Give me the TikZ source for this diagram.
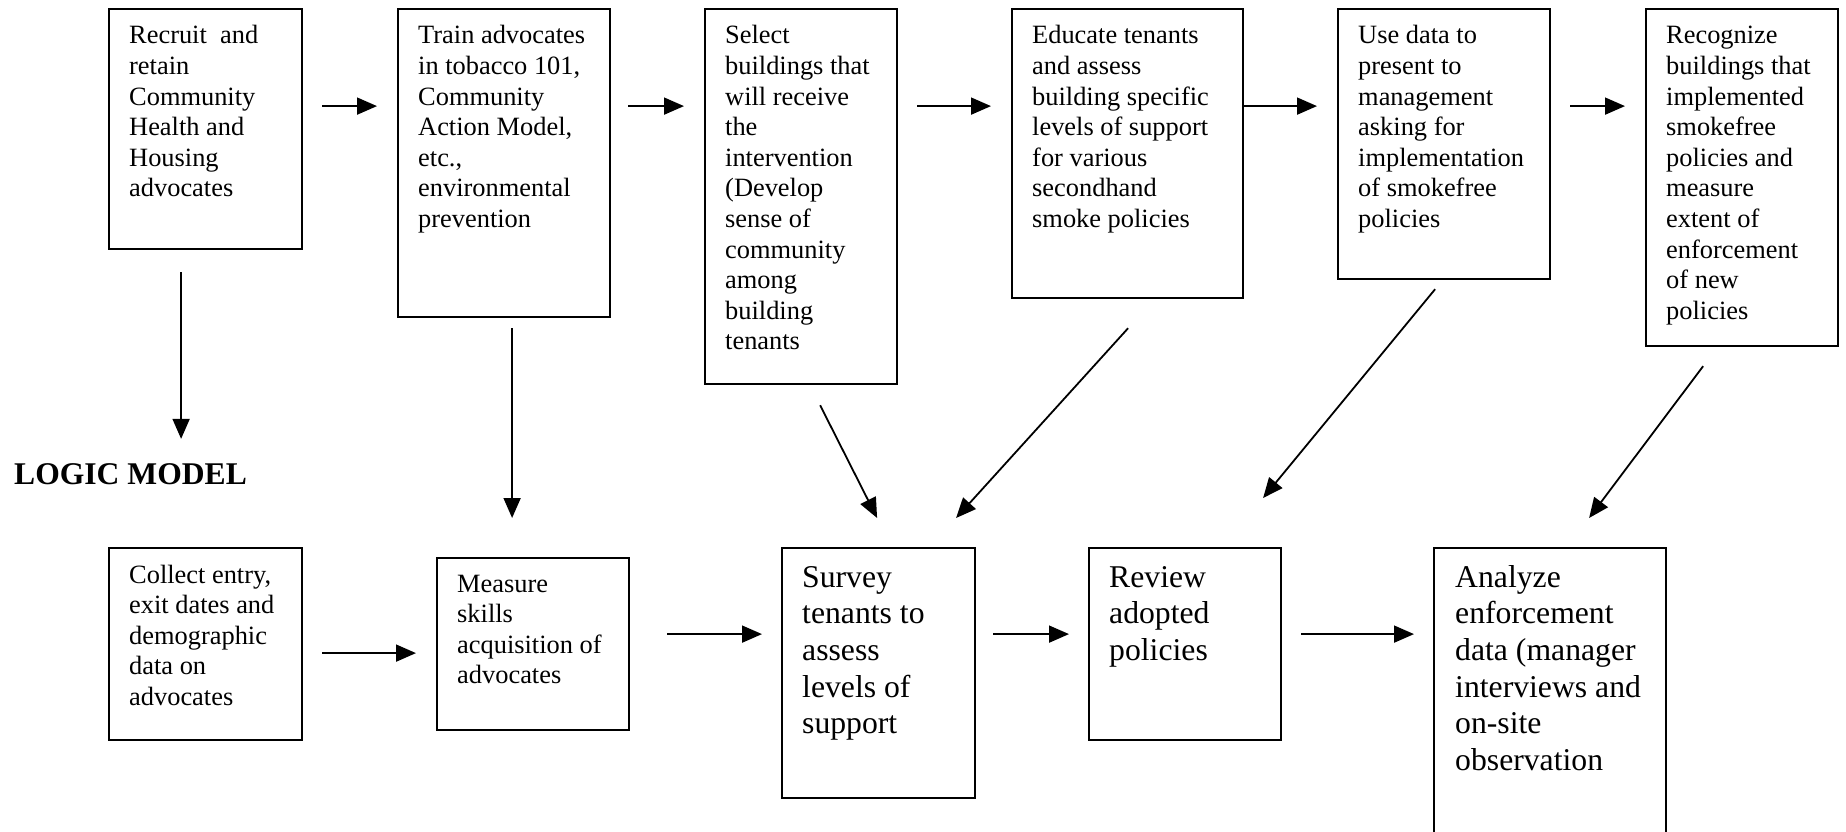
\documentclass[tikz,border=0pt]{standalone}
\usepackage{fontspec}
\setmainfont{Liberation Serif}
\usetikzlibrary{arrows.meta,calc}
\tikzset{
  box/.style={draw, line width=2.2pt, inner sep=0pt, anchor=north west},
  arr/.style={line width=1.8pt, -{Triangle[length=20pt,width=17pt]}},
  sm/.style={anchor=base west, inner sep=0pt, font=\fontsize{26.4}{30.6}\selectfont},
  bg/.style={anchor=base west, inner sep=0pt, font=\fontsize{31.7}{36.7}\selectfont},
}
\newcommand{\mylines}[1]{\parbox[t]{400pt}{\raggedright #1}}
\begin{document}
\begin{tikzpicture}[x=1pt,y=-1pt]
\useasboundingbox[fill=white] (0,0) rectangle (1846,832);
% top row boxes
\node[box, minimum width=193pt, minimum height=240pt] (A) at (108,8) {};
\node[box, minimum width=212pt, minimum height=308pt] (B) at (397,8) {};
\node[box, minimum width=192pt, minimum height=375pt] (C) at (704,8) {};
\node[box, minimum width=231pt, minimum height=289pt] (D) at (1011,8) {};
\node[box, minimum width=212pt, minimum height=270pt] (E) at (1337,8) {};
\node[box, minimum width=192pt, minimum height=337pt] (F) at (1645,8) {};
% bottom row boxes
\node[box, minimum width=193pt, minimum height=192pt] (G) at (108,547) {};
\node[box, minimum width=192pt, minimum height=172pt] (H) at (436,557) {};
\node[box, minimum width=193pt, minimum height=250pt] (I) at (781,547) {};
\node[box, minimum width=192pt, minimum height=192pt] (J) at (1088,547) {};
\node[box, minimum width=232pt, minimum height=293pt] (K) at (1433,547) {};
% texts
\node[sm] (tA) at (129,44) {\mylines{Recruit \ and\\retain\\Community\\Health and\\Housing\\advocates}};
\node[sm] (tB) at (418,44) {\mylines{Train advocates\\in tobacco 101,\\Community\\Action Model,\\etc.,\\environmental\\prevention}};
\node[sm] (tC) at (725,44) {\mylines{Select\\buildings that\\will receive\\the\\intervention\\(Develop\\sense of\\community\\among\\building\\tenants}};
\node[sm] (tD) at (1032,44) {\mylines{Educate tenants\\and assess\\building specific\\levels of support\\for various\\secondhand\\smoke policies}};
\node[sm] (tE) at (1358,44) {\mylines{Use data to\\present to\\management\\asking for\\implementation\\of smokefree\\policies}};
\node[sm] (tF) at (1666,44) {\mylines{Recognize\\buildings that\\implemented\\smokefree\\policies and\\measure\\extent of\\enforcement\\of new\\policies}};
\node[sm] (tG) at (129,583) {\mylines{Collect entry,\\exit dates and\\demographic\\data on\\advocates}};
\node[sm] (tH) at (457,592) {\mylines{Measure\\skills\\acquisition of\\advocates}};
\node[bg] (tI) at (802,587) {\mylines{Survey\\tenants to\\assess\\levels of\\support}};
\node[bg] (tJ) at (1109,587) {\mylines{Review\\adopted\\policies}};
\node[bg] (tK) at (1455,587) {\mylines{Analyze\\enforcement\\data (manager\\interviews and\\on-site\\observation}};
\node[anchor=base west, inner sep=0pt, font=\bfseries\fontsize{31.6}{36}\selectfont] (LM) at (14,484) {LOGIC MODEL};
% top row arrows
\draw[arr] ([shift={(19,-23)}]A.east) -- ([shift={(-20,-57)}]B.west);
\draw[arr] ([shift={(17,-57)}]B.east) -- ([shift={(-20,-90.5)}]C.west);
\draw[arr] ([shift={(19,-90.5)}]C.east) -- ([shift={(-20,-47.5)}]D.west);
\draw[arr] ([shift={(0,-47.5)}]D.east) -- ([shift={(-20,-38)}]E.west);
\draw[arr] ([shift={(19,-38)}]E.east) -- ([shift={(-20,-71.5)}]F.west);
% vertical / diagonal arrows
\coordinate (ax) at ([shift={(-24.5,0)}]A.south);
\draw[arr, shorten >=24pt] ([shift={(-24.5,22)}]A.south) -- (ax |- LM.north);
\draw[arr] ([shift={(8,10)}]B.south) -- ([shift={(-21,-39)}]H.north);
\draw[arr] ([shift={(19,20)}]C.south) -- ([shift={(-1.5,-29)}]I.north);
\draw[arr] ([shift={(0.5,29)}]D.south) -- ([shift={(77.5,-29)}]I.north);
\draw[arr] ([shift={(-9,9)}]E.south) -- ([shift={(78,-49)}]J.north);
\draw[arr] ([shift={(-39,19)}]F.south) -- ([shift={(39,-29)}]K.north);
% bottom row arrows
\draw[arr] ([shift={(19,9)}]G.east) -- ([shift={(-20,9)}]H.west);
\draw[arr] ([shift={(37,-10)}]H.east) -- ([shift={(-19,-39)}]I.west);
\draw[arr] ([shift={(17,-39)}]I.east) -- ([shift={(-19,-10)}]J.west);
\draw[arr] ([shift={(19,-10)}]J.east) -- ([shift={(-19,-60.5)}]K.west);
\end{tikzpicture}
\end{document}
